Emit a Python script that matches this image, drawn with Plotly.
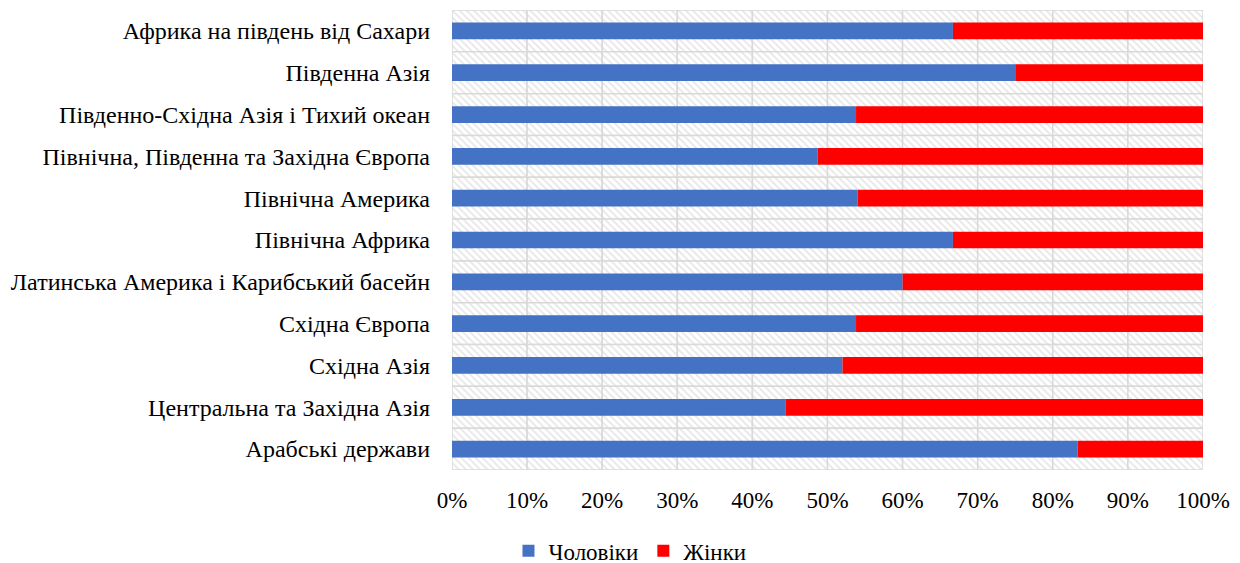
import plotly.graph_objects as go

categories = [
    "Африка на південь від Сахари",
    "Південна Азія",
    "Південно-Східна Азія і Тихий океан",
    "Північна, Південна та Західна Європа",
    "Північна Америка",
    "Північна Африка",
    "Латинська Америка і Карибський басейн",
    "Східна Європа",
    "Східна Азія",
    "Центральна та Західна Азія",
    "Арабські держави",
]
men = [66.7, 75.0, 53.8, 48.7, 54.0, 66.7, 60.0, 53.8, 52.0, 44.4, 83.3]
women = [round(100 - m, 1) for m in men]
tick_vals = list(range(0, 101, 10))
tick_text = [f"{v}%" for v in tick_vals]

FONT = "Liberation Serif, serif"

fig = go.Figure()

# hatched plot-area background with grid cells
bg_y, bg_x, bg_base = [], [], []
for c in categories:
    for a, b in zip(tick_vals[:-1], tick_vals[1:]):
        bg_y.append(c)
        bg_x.append(b - a)
        bg_base.append(a)
fig.add_trace(go.Bar(
    y=bg_y, x=bg_x, base=bg_base, orientation="h", width=1,
    marker=dict(color="white",
                pattern=dict(shape="\\", fgcolor="#CFCFCF", bgcolor="white", size=5, solidity=0.35),
                line=dict(color="#D9D9D9", width=1.5)),
    showlegend=False, hoverinfo="skip",
))

fig.add_trace(go.Bar(
    y=categories, x=men, base=[0] * len(men), orientation="h", width=0.4,
    name="Чоловіки", marker=dict(color="#4472C4", line=dict(width=0)),
))
fig.add_trace(go.Bar(
    y=categories, x=women, base=men, orientation="h", width=0.4,
    name="Жінки", marker=dict(color="#FF0000", line=dict(width=0)),
))

fig.update_layout(
    width=1240, height=563,
    margin=dict(l=444, r=45, t=2, b=101, autoexpand=False),
    barmode="overlay",
    plot_bgcolor="white", paper_bgcolor="white",
    font=dict(family=FONT, size=23, color="black"),
    legend=dict(orientation="h", x=0.237, xanchor="center",
                yref="container", y=0.036, yanchor="middle",
                font=dict(family=FONT, size=23, color="black"), traceorder="normal", itemwidth=30),
    xaxis=dict(range=[0, 100], tickvals=tick_vals, ticktext=tick_text, showgrid=False,
               zeroline=False, showline=False, ticks="", ticklabelstandoff=14,
               tickfont=dict(family=FONT, size=23, color="black")),
    yaxis=dict(autorange="reversed", showgrid=False, zeroline=False, showline=False,
               ticks="", ticklabelstandoff=21, tickfont=dict(family=FONT, size=24, color="black")),
)

fig.write_html("out.html")
